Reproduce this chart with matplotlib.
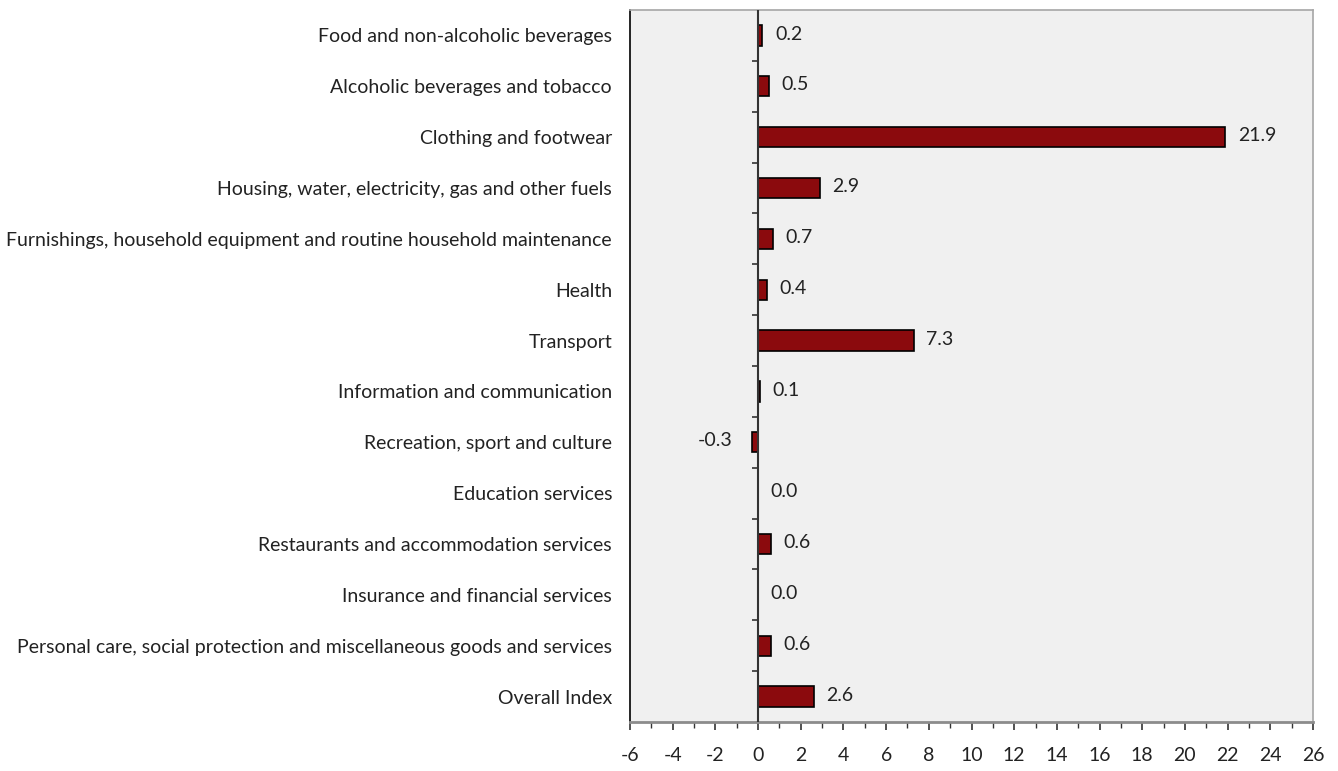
"""Horizontal bar chart of annual change by expenditure division."""
import matplotlib
matplotlib.use('Agg')
import matplotlib.pyplot as plt
from matplotlib.ticker import MultipleLocator
import numpy as np

plt.rcParams['font.family'] = ['Lato', 'DejaVu Sans']
plt.rcParams['axes.unicode_minus'] = False

categories = [
    'Food and non-alcoholic beverages',
    'Alcoholic beverages and tobacco',
    'Clothing and footwear',
    'Housing, water, electricity, gas and other fuels',
    'Furnishings, household equipment and routine household maintenance',
    'Health',
    'Transport',
    'Information and communication',
    'Recreation, sport and culture',
    'Education services',
    'Restaurants and accommodation services',
    'Insurance and financial services',
    'Personal care, social protection and miscellaneous goods and services',
    'Overall Index',
]
values = [0.2, 0.5, 21.9, 2.9, 0.7, 0.4, 7.3, 0.1, -0.3, 0.0, 0.6, 0.0, 0.6, 2.6]

bar_color = '#8B0A0D'
panel_color = '#F0F0F0'
frame_gray = '#A6A6A6'

fig = plt.figure(figsize=(13.38, 7.71), dpi=100)
ax = fig.add_axes([0.4709, 0.0636, 0.5104, 0.9234])
ax.set_facecolor(panel_color)

y = np.arange(len(categories))
ax.barh(y, values, height=0.4, color=bar_color, edgecolor='black',
        linewidth=1.2, zorder=3)

ax.set_xlim(-6, 26)
ax.set_ylim(len(categories) - 0.5, -0.5)

# value labels just past the end of each bar
for yi, v in zip(y, values):
    if v < 0:
        ax.annotate(f'{v:.1f}', (v, yi), xytext=(-14, 1),
                    textcoords='offset points', ha='right', va='center',
                    fontsize=14, color='#222222')
    else:
        ax.annotate(f'{v:.1f}', (v, yi), xytext=(9, 1),
                    textcoords='offset points', ha='left', va='center',
                    fontsize=14, color='#222222')

# category axis drawn at zero, with tick marks between the rows
ax.axvline(0, color='#333333', linewidth=1.5, zorder=4)
bounds = np.arange(len(categories) + 1) - 0.5
ax.hlines(bounds[1:-1], -0.28, 0, color='#333333', linewidth=1.2, zorder=4)

ax.set_yticks(y)
ax.set_yticklabels(categories, fontsize=14, color='#222222')
ax.tick_params(axis='y', length=0, pad=13)

ax.xaxis.set_major_locator(MultipleLocator(2))
ax.xaxis.set_minor_locator(MultipleLocator(1))
ax.tick_params(axis='x', which='major', length=6, width=1.2,
               color='#333333', labelsize=14, labelcolor='#222222', pad=12)
ax.tick_params(axis='x', which='minor', length=4, width=1.0, color='#333333')

ax.spines['left'].set_color('black')
ax.spines['left'].set_linewidth(1.2)
for side in ('top', 'right'):
    ax.spines[side].set_color(frame_gray)
    ax.spines[side].set_linewidth(1.2)
ax.spines['bottom'].set_color('#8C8C8C')
ax.spines['bottom'].set_linewidth(2)

fig.savefig('out.png', dpi=100, facecolor='white')
